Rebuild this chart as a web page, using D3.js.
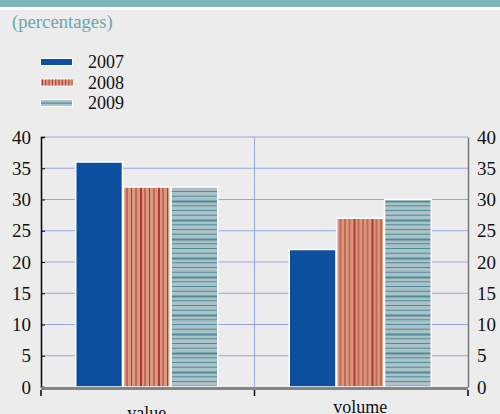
<!DOCTYPE html>
<html>
<head>
<meta charset="utf-8">
<script src="https://cdn.jsdelivr.net/npm/d3@7"></script>
<style>
  body { margin: 0; background: #ececec; }
  svg { display: block; }
  text { font-family: "Liberation Serif", "Times New Roman", serif; }
</style>
</head>
<body>
<div id="chart"></div>
<script>
const categories = ['value', 'volume'];
const years = ['2007', '2008', '2009'];
const values2007 = [36, 22];
const values2008 = [32, 27];
const values2009 = [32, 30];
const yTicks = [0, 5, 10, 15, 20, 25, 30, 35, 40];

const W = 500, H = 414;
const margin = { top: 137, right: 32, bottom: 27, left: 41 };
const serif = '"Liberation Serif", "Times New Roman", serif';

const svg = d3.select('#chart').append('svg')
    .attr('width', W)
    .attr('height', H);

// patterns for the hatched bars
const defs = svg.append('defs');

const p8 = defs.append('pattern')
    .attr('id', 'pat2008')
    .attr('patternUnits', 'userSpaceOnUse')
    .attr('width', 18).attr('height', 10);
p8.append('rect').attr('width', 18).attr('height', 10).attr('fill', '#d99880');
[[1, 1], [5.5, 1], [10, 2], [14.5, 1]].forEach(([x, w]) => {
    p8.append('rect').attr('x', x).attr('width', w).attr('height', 10).attr('fill', '#b03a2e');
});

const p9 = defs.append('pattern')
    .attr('id', 'pat2009')
    .attr('patternUnits', 'userSpaceOnUse')
    .attr('width', 10).attr('height', 19);
p9.append('rect').attr('width', 10).attr('height', 19).attr('fill', '#aac1c8');
[[1, 1], [5.75, 1], [10.5, 2], [15.25, 1]].forEach(([y, h]) => {
    p9.append('rect').attr('y', y).attr('height', h).attr('width', 10).attr('fill', '#4f8c99');
});

const fills = ['#0d4f9f', 'url(#pat2008)', 'url(#pat2009)'];

// header band
svg.append('rect').attr('x', 0).attr('y', 0).attr('width', W).attr('height', 7).attr('fill', '#7fb5bb');
svg.append('rect').attr('x', 0).attr('y', 7).attr('width', W).attr('height', 3).attr('fill', '#ffffff');

svg.append('text')
    .attr('x', 12).attr('y', 28)
    .attr('fill', '#6aa6ad')
    .style('font-size', '18.7px')
    .style('font-family', serif)
    .text('(percentages)');

// legend
const legend = svg.append('g');
years.forEach((yr, i) => {
    const ly = 62 + i * 20.5;
    const g = legend.append('g').attr('transform', `translate(40,${ly})`);
    g.append('rect')
        .attr('x', 0).attr('y', -4)
        .attr('width', 33).attr('height', 8)
        .attr('fill', '#ffffff');
    if (i === 0) {
        g.append('rect').attr('x', 1).attr('y', -3).attr('width', 31).attr('height', 6).attr('fill', fills[0]);
    } else if (i === 1) {
        g.append('rect').attr('x', 1).attr('y', -3).attr('width', 31).attr('height', 6).attr('fill', '#d99880');
        d3.range(1, 32, 3.3).forEach(x => {
            g.append('rect').attr('x', 1 + x).attr('y', -3).attr('width', 1).attr('height', 6).attr('fill', '#b03a2e');
        });
    } else {
        g.append('rect').attr('x', 1).attr('y', -3).attr('width', 31).attr('height', 6).attr('fill', '#aac1c8');
        g.append('rect').attr('x', 1).attr('y', -0.5).attr('width', 31).attr('height', 1.2).attr('fill', '#4f8c99');
    }
    g.append('text')
        .attr('x', 48).attr('y', 6)
        .style('font-size', '18px')
        .style('font-family', serif)
        .attr('fill', '#111')
        .text(yr);
});

const x = d3.scaleBand()
    .domain(categories)
    .range([margin.left, W - margin.right]);

const xInner = d3.scaleBand()
    .domain(years)
    .range([0, x.bandwidth()])
    .paddingOuter(0.75)
    .paddingInner(0.02);

const y = d3.scaleLinear()
    .domain([0, 40])
    .range([387, margin.top]);

// gridlines
const grid = svg.append('g');
grid.selectAll('line.h')
    .data(yTicks.filter(d => d > 0))
    .enter().append('line')
    .attr('class', 'h')
    .attr('x1', margin.left).attr('x2', W - margin.right)
    .attr('y1', d => y(d)).attr('y2', d => y(d))
    .attr('stroke', '#9aa6e2').attr('stroke-width', 1);
grid.append('line')
    .attr('x1', x('volume')).attr('x2', x('volume'))
    .attr('y1', y(40)).attr('y2', y(0))
    .attr('stroke', '#9aa6e2').attr('stroke-width', 1);

// bars
const series = [values2007, values2008, values2009];
categories.forEach((cat, ci) => {
    const g = svg.append('g').attr('transform', `translate(${x(cat) - 1},0)`);
    g.selectAll('rect')
        .data(years.map((yr, i) => ({ yr, v: series[i][ci], i })))
        .enter().append('rect')
        .attr('x', d => xInner(d.yr))
        .attr('y', d => y(d.v))
        .attr('width', xInner.bandwidth())
        .attr('height', d => y(0) - y(d.v))
        .attr('fill', d => fills[d.i])
        .attr('stroke', '#ffffff')
        .attr('stroke-width', 1.5);
});

// left axis
const yAxisL = d3.axisLeft(y).tickValues(yTicks).tickSize(-4).tickPadding(10);
const gl = svg.append('g')
    .attr('transform', `translate(${margin.left},0)`)
    .call(yAxisL);
gl.select('.domain').attr('stroke', '#000').attr('stroke-width', 1.5);
gl.selectAll('.tick line').attr('stroke', '#000');
gl.selectAll('.tick text')
    .style('font-size', '19px')
    .style('font-family', serif)
    .attr('fill', '#111');

// right axis
const yAxisR = d3.axisRight(y).tickValues(yTicks).tickSize(0).tickPadding(9);
const gr = svg.append('g')
    .attr('transform', `translate(${W - margin.right},0)`)
    .call(yAxisR);
gr.select('.domain').attr('stroke', '#777').attr('stroke-width', 1.5);
gr.selectAll('.tick text')
    .style('font-size', '19px')
    .style('font-family', serif)
    .attr('fill', '#111');

// bottom axis
svg.append('line')
    .attr('x1', margin.left).attr('x2', W - margin.right)
    .attr('y1', y(0) + 1.5).attr('y2', y(0) + 1.5)
    .attr('stroke', '#858585').attr('stroke-width', 3);
[margin.left, x('volume'), W - margin.right].forEach(px => {
    svg.append('line')
        .attr('x1', px).attr('x2', px)
        .attr('y1', y(0) + 3).attr('y2', y(0) + 9)
        .attr('stroke', '#000').attr('stroke-width', 1.5);
});

const catY = { value: 419, volume: 413 };
svg.selectAll('text.cat')
    .data(categories)
    .enter().append('text')
    .attr('class', 'cat')
    .attr('x', d => x(d) + x.bandwidth() / 2 - 1)
    .attr('y', d => catY[d])
    .attr('text-anchor', 'middle')
    .style('font-size', '18px')
    .style('font-family', serif)
    .attr('fill', '#111')
    .text(d => d);
</script>
</body>
</html>
